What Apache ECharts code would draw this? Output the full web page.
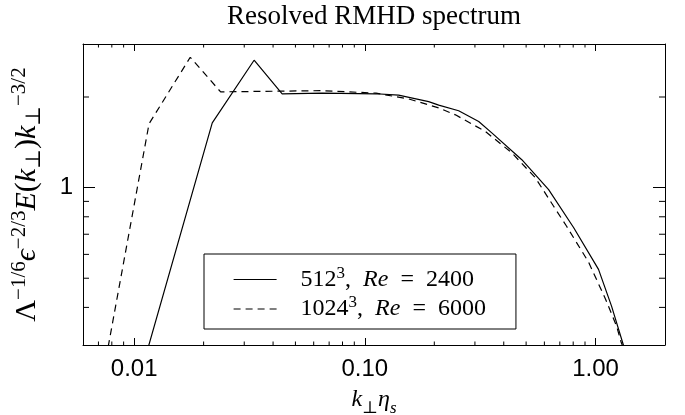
<!DOCTYPE html>
<html>
<head>
<meta charset="utf-8">
<script src="https://cdn.jsdelivr.net/npm/echarts@6/dist/echarts.min.js"></script>
<style>
html, body { margin: 0; padding: 0; background: #fff; }
#chart { width: 685px; height: 415px; }
</style>
</head>
<body>
<div id="chart"></div>
<script>
// 512^3, Re = 2400 (solid)
var k512 = [0.0109, 0.0218, 0.0331, 0.0438, 0.0652, 0.1117, 0.140, 0.189, 0.209, 0.255, 0.3115, 0.355, 0.479, 0.626, 0.803, 1.03, 1.173, 1.32, 1.40];
var e512 = [0.255, 1.64, 2.65, 2.05, 2.06, 2.05, 2.03, 1.93, 1.88, 1.80, 1.658, 1.52, 1.238, 0.985, 0.737, 0.535, 0.404, 0.30, 0.26];
// 1024^3, Re = 6000 (dashed)
var k1024 = [0.00595, 0.0116, 0.0175, 0.0237, 0.0652, 0.1117, 0.155, 0.209, 0.247, 0.333, 0.433, 0.548, 0.658, 0.749, 0.933, 1.105, 1.233, 1.29, 1.35];
var e1024 = [0.10, 1.63, 2.71, 2.08, 2.10, 2.06, 1.97, 1.84, 1.745, 1.536, 1.306, 1.079, 0.867, 0.744, 0.565, 0.426, 0.347, 0.307, 0.28];

var xMinor = [0.007, 0.008, 0.009, 0.02, 0.03, 0.04, 0.05, 0.06, 0.07, 0.08, 0.09, 0.2, 0.3, 0.4, 0.5, 0.6, 0.7, 0.8, 0.9];
var yMinor = [0.4, 0.5, 0.6, 0.7, 0.8, 0.9, 2];

function pairs(xs, ys) {
    var out = [];
    for (var i = 0; i < xs.length; i++) out.push([xs[i], ys[i]]);
    return out;
}

var serif = '"Liberation Serif", "DejaVu Serif", serif';
var sans = '"Liberation Sans", Arial, sans-serif';
function mathRich(size, lh) {
    var s = Math.round(size * 0.7);
    return {
        r: { fontFamily: serif, fontSize: size, lineHeight: lh, color: '#000' },
        i: { fontFamily: serif, fontSize: size, fontStyle: 'italic', lineHeight: lh, color: '#000' },
        sup: { fontFamily: serif, fontSize: s, lineHeight: s + 1, verticalAlign: 'top', color: '#000' },
        sub: { fontFamily: serif, fontSize: s, lineHeight: s + 1, verticalAlign: 'bottom', color: '#000' },
        subi: { fontFamily: serif, fontSize: s, fontStyle: 'italic', lineHeight: s + 1, verticalAlign: 'bottom', color: '#000' }
    };
}

var chart = echarts.init(document.getElementById('chart'));

var axisLine = { show: true, lineStyle: { color: '#000', width: 1 } };

option = {
    animation: false,
    backgroundColor: '#fff',
    title: {
        text: 'Resolved RMHD spectrum',
        left: 369,
        textAlign: 'center',
        top: -2,
        textStyle: { fontFamily: serif, fontSize: 27, fontWeight: 'normal', color: '#000' }
    },
    grid: { left: 83, right: 20, top: 44, bottom: 70, outerBoundsMode: 'none', containLabel: false },
    legend: {
        orient: 'vertical',
        left: 204,
        top: 254,
        padding: [11, 30, 8, 29],
        itemWidth: 43,
        itemHeight: 14,
        itemGap: 3,
        backgroundColor: '#fff',
        borderColor: '#000',
        borderWidth: 1,
        borderRadius: 0,
        itemStyle: { opacity: 0 },
        lineStyle: { width: 1.2 },
        data: ['512', '1024'],
        formatter: function (name) {
            if (name === '512') return '{r|512}{sup|3}{r|,  }{i|Re}{r|  =  2400}';
            return '{r|1024}{sup|3}{r|,  }{i|Re}{r|  =  6000}';
        },
        textStyle: { padding: [0, 0, 0, 19], rich: mathRich(24, 29) }
    },
    xAxis: [{
        type: 'log',
        logBase: 10,
        min: 0.006,
        max: 2,
        name: '{i|k}{sub|⊥}{i|η}{subi|s}',
        nameLocation: 'middle',
        nameGap: 38,
        nameTextStyle: { rich: mathRich(24, 34) },
        axisLine: axisLine,
        axisTick: { inside: true, length: 7, lineStyle: { color: '#000' } },
        axisLabel: {
            showMinLabel: false,
            showMaxLabel: false,
            margin: 12,
            color: '#000',
            fontFamily: sans,
            fontSize: 24,
            formatter: function (v) { return v.toFixed(2); }
        },
        splitLine: { show: false }
    }, {
        type: 'log',
        logBase: 10,
        min: 0.006,
        max: 2,
        position: 'top',
        axisLine: axisLine,
        axisTick: { inside: true, length: 7, lineStyle: { color: '#000' } },
        axisLabel: { show: false },
        splitLine: { show: false }
    }],
    yAxis: [{
        type: 'log',
        logBase: 10,
        min: 0.3,
        max: 3,
        name: '{r|Λ}{sup|−1/6}{i|ϵ}{sup|−2/3}{i|E}{r|(}{i|k}{sub|⊥}{r|)}{i|k}{sub|⊥}{sup|−3/2}',
        nameLocation: 'middle',
        nameRotate: 90,
        nameGap: 38,
        nameTextStyle: { rich: mathRich(30, 36) },
        axisLine: axisLine,
        axisTick: { inside: true, length: 12, lineStyle: { color: '#000' } },
        axisLabel: {
            showMinLabel: false,
            showMaxLabel: false,
            margin: 10,
            color: '#000',
            fontFamily: sans,
            fontSize: 24,
            formatter: function (v) { return String(Math.round(v)); }
        },
        splitLine: { show: false }
    }, {
        type: 'log',
        logBase: 10,
        min: 0.3,
        max: 3,
        position: 'right',
        axisLine: axisLine,
        axisTick: { inside: true, length: 12, lineStyle: { color: '#000' } },
        axisLabel: { show: false },
        splitLine: { show: false }
    }],
    series: [{
        name: '512',
        type: 'line',
        data: pairs(k512, e512),
        symbol: 'none',
        clip: true,
        lineStyle: { color: '#000', width: 1.2, type: 'solid' },
        itemStyle: { color: '#000' }
    }, {
        name: '1024',
        type: 'line',
        data: pairs(k1024, e1024),
        symbol: 'none',
        clip: true,
        lineStyle: { color: '#000', width: 1.2, type: [7, 5] },
        itemStyle: { color: '#000' }
    }]
};
chart.setOption(option);

// minor ticks at 2..9 of each decade, placed by the axes' own scales
var rect = chart.getModel().getComponent('grid').coordinateSystem.getRect();
var ticks = [];
xMinor.forEach(function (v) {
    var px = chart.convertToPixel({ xAxisIndex: 0 }, v);
    ticks.push({ type: 'line', shape: { x1: px, y1: rect.y + rect.height, x2: px, y2: rect.y + rect.height - 3.5 }, style: { stroke: '#000', lineWidth: 1 } });
    ticks.push({ type: 'line', shape: { x1: px, y1: rect.y, x2: px, y2: rect.y + 3.5 }, style: { stroke: '#000', lineWidth: 1 } });
});
yMinor.forEach(function (v) {
    var py = chart.convertToPixel({ yAxisIndex: 0 }, v);
    ticks.push({ type: 'line', shape: { x1: rect.x, y1: py, x2: rect.x + 6, y2: py }, style: { stroke: '#000', lineWidth: 1 } });
    ticks.push({ type: 'line', shape: { x1: rect.x + rect.width, y1: py, x2: rect.x + rect.width - 6, y2: py }, style: { stroke: '#000', lineWidth: 1 } });
});
chart.setOption({ graphic: ticks });
</script>
</body>
</html>
